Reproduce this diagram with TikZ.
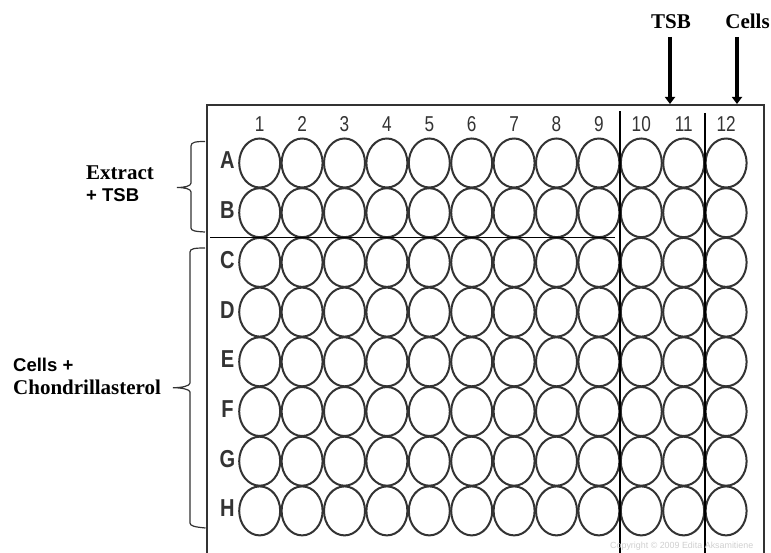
\documentclass[tikz,border=0pt]{standalone}
\usepackage{fontspec}
\setmainfont{Liberation Serif}
\setsansfont{Liberation Sans}
\newfontfamily\narrowsf[FakeStretch=0.8]{Liberation Sans}
\newfontfamily\narrowsfb[FakeStretch=0.82]{Liberation Sans Bold}
\usetikzlibrary{arrows.meta,shapes.geometric}
\definecolor{wellc}{HTML}{333333}
\definecolor{platec}{HTML}{333333}
\definecolor{numc}{HTML}{333333}
\definecolor{copyc}{HTML}{CFCFCF}
\begin{document}
\begin{tikzpicture}[x=1pt,y=-1pt,
  well/.style={ellipse, draw=wellc, line width=2pt, minimum width=41pt, minimum height=49pt, inner sep=0pt},
  colnum/.style={font=\narrowsf\fontsize{21.5}{22}\selectfont, text=numc, inner sep=0pt, anchor=base},
  rowlab/.style={font=\narrowsfb\fontsize{24.5}{26}\selectfont, text=numc, inner sep=0pt, anchor=base},
  serifb/.style={font=\bfseries\fontsize{21}{24}\selectfont, inner sep=0pt, anchor=base west},
  sansb/.style={font=\sffamily\bfseries\fontsize{18.5}{20}\selectfont, inner sep=0pt, anchor=base west},
  toplab/.style={font=\bfseries\fontsize{21}{24}\selectfont, inner sep=0pt, anchor=base},
  plate/.style={draw=platec, line width=2.5pt},
  divider/.style={draw=black, line width=1.5pt},
  bracec/.style={draw=wellc, line width=1.2pt},
  arr/.style={draw=black, line width=4.8pt, -{Triangle[width=10pt,length=7pt]}},
]
\useasboundingbox (0,0) rectangle (771,553);
% plate border
\draw[plate] (207,565) -- (207,105) -- (764,105) -- (764,565);
% column numbers
\foreach \c in {1,...,12} {
  \pgfmathsetmacro\xx{259.7+42.4*(\c-1)}
  \node[colnum] (n\c) at (\xx,132) {\c};
}
% rows
\foreach \l [count=\i from 0] in {A,B,C,D,E,F,G,H} {
  \pgfmathsetmacro\yy{163+49.7*\i}
  \node[rowlab] (r\l) at (227.5,\yy+6) {\l};
  \foreach \c in {1,...,12} {
    \pgfmathsetmacro\xx{259.7+42.4*(\c-1)}
    \node[well] (w\l\c) at (\xx,\yy) {};
  }
}
% dividers
\draw[divider] (620,111.5) -- (620,565);
\draw[divider] (705,113) -- (705,565);
\draw[divider, line width=1.2pt] (210,237.5) -- (615,237.5);
% top labels and arrows
\node[toplab] (tsb) at (671,29) {TSB};
\node[toplab] (cells) at (747.5,29) {Cells};
\coordinate (tsbtip) at (670,104);
\coordinate (cellstip) at (737,104);
\draw[arr, shorten <=7.5pt] (tsb.south -| tsbtip) -- (tsbtip);
\draw[arr, shorten <=7.5pt] (cells.south -| cellstip) -- (cellstip);
% braces
\draw[bracec] (205,141.5) .. controls (196,141.5) and (191,142) .. (191,146)
  -- (191,183) .. controls (191,186) and (185,187.5) .. (177,187.5)
  .. controls (185,187.5) and (191,189) .. (191,192)
  -- (191,228) .. controls (191,231) and (196,231.5) .. (205,232);
\draw[bracec] (205,248) .. controls (195,248) and (190,248.5) .. (190,252)
  -- (190,383) .. controls (190,386) and (182,387.7) .. (173,387.7)
  .. controls (182,387.7) and (190,389.5) .. (190,392)
  -- (190,523) .. controls (190,526) and (195,527) .. (205.5,528);
% left labels
\node[serifb] (extract) at (86,180) {Extract};
\node[sansb] (plustsb) at (86,202) {+ TSB};
\node[sansb] (cellsplus) at (13,371.5) {Cells +};
\node[serifb] (chondr) at (13,394) {Chondrillasterol};
% copyright
\node[font=\sffamily\fontsize{8.9}{10}\selectfont, text=copyc, inner sep=0pt, anchor=base west] (copy) at (610,548) {Copyright \textcopyright\ 2009 Edita Aksamitiene};
\end{tikzpicture}
\end{document}
